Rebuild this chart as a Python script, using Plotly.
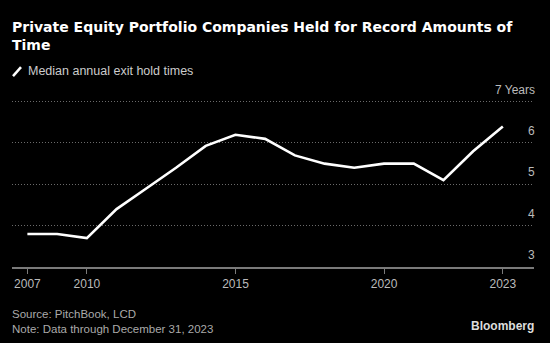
import plotly.graph_objects as go

# Data (year-end observations)
dates = [f"{y}-12-31" for y in range(2007, 2024)]
hold_years = [3.8, 3.8, 3.7, 4.4, 4.9, 5.4, 5.93, 6.2, 6.1, 5.7, 5.5, 5.4, 5.5, 5.5, 5.1, 5.8, 6.4]

x_tickvals = ["2007-12-31", "2010-01-01", "2015-01-01", "2020-01-01", "2023-12-31"]
x_ticktext = ["2007", "2010", "2015", "2020", "2023"]
y_tickvals = [3, 4, 5, 6, 7]
y_ticktext = ["3", "4", "5", "6", "7 Years"]

title_text = "Private Equity Portfolio Companies Held for Record Amounts of<br>Time"
legend_text = "Median annual exit hold times"
source_text = "Source: PitchBook, LCD<br>Note: Data through December 31, 2023"

FONT = "Liberation Sans"
TITLE_FONT = "DejaVu Sans"
W, H = 550, 343
ML, MR, MT, MB = 12, 16, 100, 75.5
PW, PH = W - ML - MR, H - MT - MB


def px_x(px):
    return (px - ML) / PW


def px_y(py):
    return (H - MB - py) / PH


fig = go.Figure()
fig.add_trace(go.Scatter(
    x=dates, y=hold_years, mode="lines",
    line=dict(color="#ffffff", width=2.6),
    showlegend=False, hoverinfo="skip",
))

fig.update_layout(
    width=W, height=H,
    paper_bgcolor="#000000", plot_bgcolor="#000000",
    margin=dict(l=ML, r=MR, t=MT, b=MB),
    font=dict(family=FONT, color="#bbbbbb", size=12),
    title=dict(
        text=title_text, xref="container", yref="container",
        x=12 / W, xanchor="left", y=1 - 32 / H, yanchor="top",
        font=dict(family=TITLE_FONT, size=14, color="#ffffff", weight="bold"),
    ),
    xaxis=dict(
        type="date", range=["2007-06-25", "2025-01-17"],
        tickvals=x_tickvals, ticktext=x_ticktext,
        showgrid=False, zeroline=False,
        showline=True, linecolor="#7a7a7a", linewidth=1.5,
        ticks="outside", ticklen=5, tickcolor="#7a7a7a", tickwidth=1,
        tickfont=dict(family=FONT, size=12, color="#bbbbbb"),
    ),
    yaxis=dict(
        range=[3, 7.04], tickvals=y_tickvals, showticklabels=False,
        showgrid=True, gridcolor="#6a6a6a", griddash="1px,2px", gridwidth=1,
        zeroline=False, showline=False, ticks="",
    ),
)

# y tick labels sitting above gridlines, right aligned
for v, t in zip(y_tickvals, y_ticktext):
    fig.add_annotation(
        x=1, xref="paper", xanchor="right", xshift=3,
        y=v, yref="y", yanchor="middle", yshift=12,
        text=t, showarrow=False,
        font=dict(family=FONT, size=12, color="#bbbbbb"),
    )

# legend: slash icon + label
fig.add_shape(
    type="line", xref="paper", yref="paper",
    x0=px_x(13), x1=px_x(21), y0=px_y(76), y1=px_y(67),
    line=dict(color="#ffffff", width=2.5),
)
fig.add_annotation(
    x=px_x(26), xref="paper", xanchor="left",
    y=px_y(71), yref="paper", yanchor="middle",
    text=legend_text, showarrow=False,
    font=dict(family=FONT, size=12.5, color="#cccccc"),
)

# footer
fig.add_annotation(
    x=px_x(10), xref="paper", xanchor="left",
    y=px_y(307), yref="paper", yanchor="top",
    text=source_text, showarrow=False, align="left",
    font=dict(family=FONT, size=11.5, color="#aaaaaa"),
)
fig.add_annotation(
    x=px_x(536), xref="paper", xanchor="right",
    y=px_y(327), yref="paper", yanchor="middle",
    text="<b>Bloomberg</b>", showarrow=False,
    font=dict(family=FONT, size=12, color="#dddddd"),
)

fig.write_html("out.html")
